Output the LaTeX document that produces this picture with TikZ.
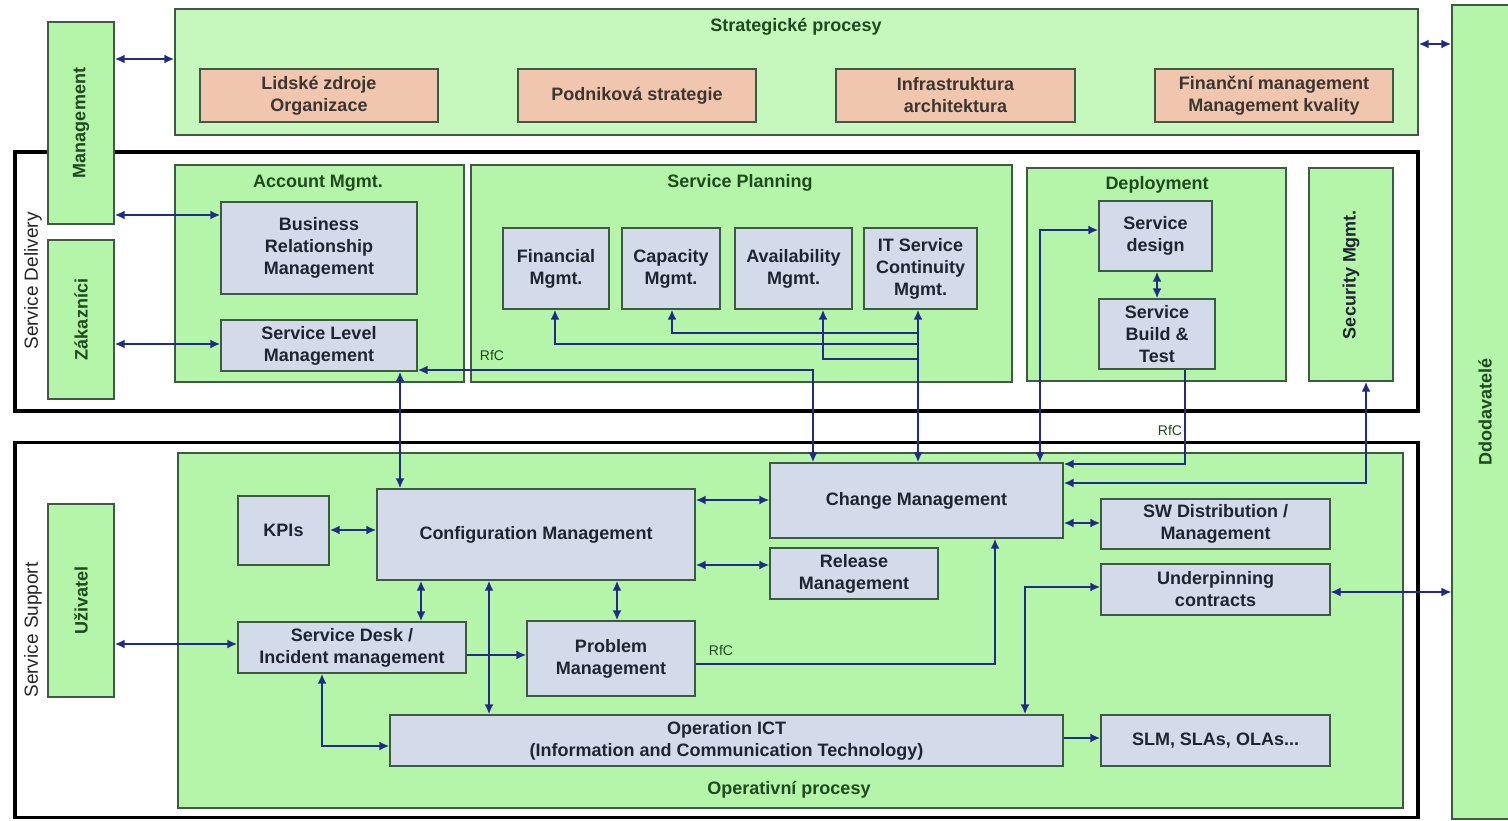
\documentclass[tikz,border=0pt]{standalone}
\usepackage{fontspec}
\setmainfont{Liberation Sans}
\usetikzlibrary{arrows.meta}
\definecolor{procgreen}{HTML}{B5F5A9}
\definecolor{stratgreen}{HTML}{C6F8BE}
\definecolor{itemblue}{HTML}{D3DAEA}
\definecolor{stratorange}{HTML}{F0C6AE}
\definecolor{edgegray}{HTML}{3F5A44}
\definecolor{linkblue}{HTML}{1F2C86}
\definecolor{titlegreen}{HTML}{1E4A1E}
\definecolor{textdark}{HTML}{1E2530}
\definecolor{textbrown}{HTML}{3D3530}
\begin{document}
\begin{tikzpicture}
        [
        x=1pt, y=-1pt,
        >={Latex[length=10pt,width=9pt]},
        every node/.style={font=\fontsize{18}{22}\selectfont\bfseries, align=center, inner sep=0pt},
        frame/.style={draw=black, line width=3.2pt, fill=white},
        greenbox/.style={draw=edgegray, line width=1.3pt, fill=procgreen},
        stratbox/.style={greenbox, fill=stratgreen},
        bluebox/.style={draw=edgegray, line width=1.3pt, fill=itemblue, text=textdark},
        orangebox/.style={draw=edgegray, line width=1.3pt, fill=stratorange, text=textbrown},
        title/.style={text=titlegreen},
        rfc/.style={font=\fontsize{14}{16}\selectfont, text=titlegreen},
        side/.style={font=\fontsize{19}{22}\selectfont, text=black!85, rotate=90},
        arrow/.style={->, draw=linkblue, line width=2.2pt},
        link/.style={<->, draw=linkblue, line width=2.2pt}
        ]

        \useasboundingbox (0,0) rectangle (1508,821);

        % Frames
        \node[frame, minimum width=1403pt, minimum height=259pt] (sdel) at (716.5,281.5) {};
        \node[frame, minimum width=1403pt, minimum height=375pt] (ssup) at (716.5,630) {};
        \node[side] (sdeltext) at (33,281) {Service Delivery};
        \node[side] (ssuptext) at (33,630) {Service Support};

        % Strategic level
        \node[stratbox, minimum width=1243pt, minimum height=126pt] (strat) at (796.5,72) {};
        \node[title] (strattitle) at (796,27) {Strategické procesy};
        \node[orangebox, minimum width=238pt, minimum height=53pt] (hr) at (319,95.5) {Lidské zdroje\\Organizace};
        \node[orangebox, minimum width=238pt, minimum height=53pt] (corp) at (637,95.5) {Podniková strategie};
        \node[orangebox, minimum width=239pt, minimum height=53pt] (infra) at (955.5,95.5) {Infrastruktura\\architektura};
        \node[orangebox, minimum width=238pt, minimum height=53pt] (fin) at (1274,95.5) {Finanční management\\Management kvality};

        % Side actors
        \node[greenbox, minimum width=66pt, minimum height=202pt] (mgmt) at (81,123) {};
        \node[title, rotate=90] (mgmttext) at (mgmt) {Management};
        \node[greenbox, minimum width=66pt, minimum height=159pt] (zak) at (81,319.5) {};
        \node[title, rotate=90] (zaktext) at (zak) {Zákazníci};
        \node[greenbox, minimum width=66pt, minimum height=193pt] (uziv) at (81,600.5) {};
        \node[title, rotate=90] (uzivtext) at (uziv) {Uživatel};
        \node[greenbox, minimum width=68pt, minimum height=814pt] (ddod) at (1486,412) {};
        \node[title, rotate=90] (ddodtext) at (1485,412) {Ddodavatelé};

        % Service Delivery
        \node[greenbox, minimum width=289pt, minimum height=217pt] (acct) at (319.5,273.5) {};
        \node[title] (accttitle) at (318,183) {Account Mgmt.};
        \node[bluebox, minimum width=196pt, minimum height=92pt] (brm) at (319,248) {Business\\Relationship\\Management};
        \node[bluebox, minimum width=196pt, minimum height=51pt] (slm) at (319,345.5) {Service Level\\Management};

        \node[greenbox, minimum width=541pt, minimum height=217pt] (splan) at (741.5,273.5) {};
        \node[title] (splantitle) at (740,183) {Service Planning};
        \node[bluebox, minimum width=106pt, minimum height=81pt] (finm) at (556,268.5) {Financial\\Mgmt.};
        \node[bluebox, minimum width=98pt, minimum height=81pt] (cap) at (671,268.5) {Capacity\\Mgmt.};
        \node[bluebox, minimum width=117pt, minimum height=81pt] (avail) at (793.5,268.5) {Availability\\Mgmt.};
        \node[bluebox, minimum width=113pt, minimum height=81pt] (itsc) at (920.5,268.5) {IT Service\\Continuity\\Mgmt.};

        \node[greenbox, minimum width=259pt, minimum height=213pt] (depl) at (1156.5,274.5) {};
        \node[title] (depltitle) at (1157,185) {Deployment};
        \node[bluebox, minimum width=113pt, minimum height=70pt] (sdes) at (1155.5,236) {Service\\design};
        \node[bluebox, minimum width=116pt, minimum height=70pt] (sbt) at (1157,334) {Service\\Build \&\\Test};

        \node[greenbox, minimum width=84pt, minimum height=213pt] (sec) at (1351,274.5) {};
        \node[title, text=textdark, rotate=90] (sectext) at (sec) {Security Mgmt.};

        % Service Support
        \node[greenbox, minimum width=1225pt, minimum height=355pt] (oper) at (790.5,630.5) {};
        \node[title] (opertitle) at (789,790) {Operativní procesy};
        \node[bluebox, minimum width=91pt, minimum height=69pt] (kpi) at (283.5,530.5) {KPIs};
        \node[bluebox, minimum width=318pt, minimum height=91pt] (cfg) at (536,534.5) {Configuration Management};
        \node[bluebox, minimum width=293pt, minimum height=75pt] (chg) at (916.5,500.5) {Change Management};
        \node[bluebox, minimum width=229pt, minimum height=50pt] (swd) at (1215.5,524) {SW Distribution /\\Management};
        \node[bluebox, minimum width=168pt, minimum height=51pt] (rel) at (854,573.5) {Release\\Management};
        \node[bluebox, minimum width=229pt, minimum height=51pt] (upc) at (1215.5,589.5) {Underpinning\\contracts};
        \node[bluebox, minimum width=228pt, minimum height=51pt] (desk) at (352,647.5) {Service Desk /\\Incident management};
        \node[bluebox, minimum width=168pt, minimum height=75pt] (prob) at (611,658.5) {Problem\\Management};
        \node[bluebox, minimum width=673pt, minimum height=51pt] (ict) at (726.5,740.5) {Operation ICT\\(Information and Communication Technology)};
        \node[bluebox, minimum width=229pt, minimum height=51pt] (sla) at (1215.5,740.5) {SLM, SLAs, OLAs...};

        % RfC labels
        \node[rfc] (rfcslm) at (492,356) {RfC};
        \node[rfc] (rfcsbt) at (1170,431) {RfC};
        \node[rfc] (rfcprob) at (721,650) {RfC};

        % Edges
        \draw[link] (mgmt.east |- 0,59) -- (strat.west |- 0,59);
        \draw[link] (strat.east |- 0,44) -- (ddod.west |- 0,44);
        \draw[link] (mgmt.east |- 0,215) -- (brm.west |- 0,215);
        \draw[link] (zak.east |- 0,344) -- (slm.west |- 0,344);
        \draw[link] (400,0 |- slm.south) -- (400,0 |- cfg.north);
        \draw[link] (813,0 |- chg.north) |- (slm.east |- 0,370);

        \draw[link] (918,0 |- itsc.south) -- (918,0 |- chg.north);
        \draw[arrow] (918,333) -| (672,0 |- cap.south);
        \draw[arrow] (918,344) -| (555,0 |- finm.south);
        \draw[arrow] (918,359) -| (823,0 |- avail.south);

        \draw[link] (1040,0 |- chg.north) |- (sdes.west |- 0,230);
        \draw[link] (1157,0 |- sdes.south) -- (1157,0 |- sbt.north);
        \draw[arrow] (1185,0 |- sbt.south) |- (chg.east |- 0,464);
        \draw[link] (1366,0 |- sec.south) |- (chg.east |- 0,483);

        \draw[link] (uziv.east |- 0,644) -- (desk.west |- 0,644);
        \draw[link] (kpi.east |- 0,530) -- (cfg.west |- 0,530);
        \draw[link] (cfg.east |- 0,500) -- (chg.west |- 0,500);
        \draw[link] (cfg.east |- 0,565) -- (rel.west |- 0,565);
        \draw[link] (421,0 |- cfg.south) -- (421,0 |- desk.north);
        \draw[link] (617,0 |- cfg.south) -- (617,0 |- prob.north);
        \draw[link] (489,0 |- cfg.south) -- (489,0 |- ict.north);
        \draw[arrow] (desk.east |- 0,655) -- (prob.west |- 0,655);
        \draw[link] (322,0 |- desk.south) |- (ict.west |- 0,746);
        \draw[arrow] (prob.east |- 0,664) -| (995,0 |- chg.south);
        \draw[link] (chg.east |- 0,523) -- (swd.west |- 0,523);
        \draw[link] (upc.west |- 0,587) -| (1025,0 |- ict.north);
        \draw[arrow] (ict.east |- 0,738) -- (sla.west |- 0,738);
        \draw[link, line width=1.3pt] (upc.east |- 0,592) -- (ddod.west |- 0,592);

    \end{tikzpicture}
\end{document}
